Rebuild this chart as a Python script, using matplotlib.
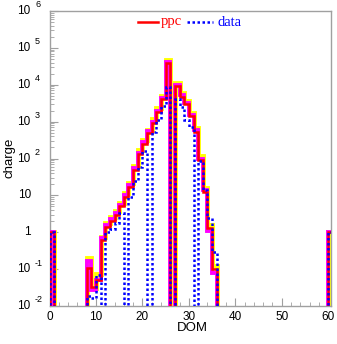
import numpy as np
import matplotlib
matplotlib.use("Agg")
import matplotlib.pyplot as plt
import matplotlib.transforms as mt

# ---- data (DOM index 0..60, one bin per DOM) ----
dom_edges = np.arange(0, 62)
ppc_vals = {0: 1.0, 8: 0.11, 9: 0.033, 10: 0.05, 11: 0.6, 12: 1.4, 13: 2.0, 14: 3.0,
            15: 5.0, 16: 9, 17: 17, 18: 50, 19: 130, 20: 250, 21: 480, 22: 900,
            23: 1800, 24: 4000, 25: 38000, 27: 9000, 28: 4800, 29: 3000, 30: 1400,
            31: 530, 32: 92, 33: 12.6, 34: 1.3, 35: 0.1, 60: 1.0}
data_vals = {0: 1.0, 8: 0.019, 9: 0.017, 10: 0.07, 12: 1.0, 13: 1.2, 14: 1.8,
             15: 3.3, 17: 9, 18: 24, 19: 60, 20: 160, 22: 530, 23: 1100,
             24: 2600, 25: 8500, 27: 4000, 28: 2500, 29: 1100, 30: 700,
             32: 85, 33: 14, 34: 2.5, 35: 0.3, 60: 1.0}
mag_vals = {0: 1.0, 8: 0.17, 9: 0.027, 10: 0.05, 11: 0.7, 12: 1.6, 13: 2.3, 14: 3.4,
            15: 5.6, 16: 10, 17: 19, 18: 56, 19: 145, 20: 280, 21: 540, 22: 1000,
            23: 2000, 24: 4500, 25: 42000, 27: 10000, 28: 5300, 29: 3300, 30: 1550,
            31: 590, 32: 100, 33: 14, 34: 1.1, 35: 0.08, 60: 1.0}
yel_vals = {0: 1.0, 8: 0.2, 9: 0.03, 10: 0.075, 11: 0.75, 12: 1.8, 13: 2.6, 14: 3.8,
            15: 6.3, 16: 11.5, 17: 22, 18: 64, 19: 165, 20: 320, 21: 610, 22: 1150,
            23: 2300, 24: 5100, 25: 47000, 27: 11500, 28: 6000, 29: 3700, 30: 1750,
            31: 660, 32: 115, 33: 16, 34: 1.6, 35: 0.12, 60: 1.0}
legend_labels = ["ppc", "data"]

def to_arr(d):
    a = np.zeros(61)
    for k, v in d.items():
        a[k] = v
    return a

ppc = to_arr(ppc_vals)
data = to_arr(data_vals)
mag = to_arr(mag_vals)
yel = to_arr(yel_vals)

YMIN, YMAX = 1e-2, 1e6
W, H = 337, 344
fig = plt.figure(figsize=(W / 100, H / 100), dpi=100)
L, R, T, B = 49.5, 331, 11, 306
ax = fig.add_axes([L / W, 1 - B / H, (R - L) / W, (B - T) / H])

def stair(a, **kw):
    b = np.where(a > 0, a, YMIN * 1e-3)
    ax.stairs(b, dom_edges, baseline=YMIN * 1e-3, **kw)

stair(yel, color="#ffff00", lw=3.5, zorder=2)
stair(mag, color="#ff00ff", lw=2.8, zorder=3)
stair(ppc, color="#ff0000", lw=1.8, zorder=4)
stair(data, color="#0000ff", lw=1.8, linestyle=(0, (1, 1)), zorder=5)

ax.set_yscale("log")
ax.set_ylim(YMIN, YMAX)
ax.set_xlim(0, 60.6)

gray = "#a0a0a0"
for s in ax.spines.values():
    s.set_color(gray)
    s.set_linewidth(1.0)

FS = 8.5
ax.set_xticks([0, 10, 20, 30, 40, 50, 60])
ax.set_xticks(np.arange(0, 61, 2), minor=True)
ax.tick_params(axis="both", which="both", direction="in", color=gray, top=False, right=False)
ax.tick_params(axis="x", which="major", length=6, labelsize=FS, pad=3.5)
ax.tick_params(axis="x", which="minor", length=3)
ax.tick_params(axis="y", which="major", length=6)
ax.tick_params(axis="y", which="minor", length=3)
for lab in ax.get_xticklabels():
    lab.set_fontfamily("Liberation Sans")

# y tick labels ROOT-style
ax.set_yticks([10.0 ** e for e in range(-2, 7)])
ax.set_yticklabels([])
trans = mt.blended_transform_factory(fig.transFigure, ax.transData)
for e in range(-2, 7):
    v = 10.0 ** e
    if e in (0, 1):
        ax.text(31 / W, v, "1" if e == 0 else "10", transform=trans, ha="right",
                va="center", fontsize=FS, family="Liberation Sans")
    else:
        ax.text(30 / W, v, "10", transform=trans, ha="right", va="center",
                fontsize=FS, family="Liberation Sans")
        ax.text(35 / W, v * 10 ** 0.095, str(e), transform=trans, ha="left",
                va="baseline", fontsize=6.5, family="Liberation Sans")

fig.text(192 / W, 1 - 328 / H, "DOM", ha="center", va="center", fontsize=9.5,
         family="Liberation Sans")
fig.text(9 / W, 1 - 158 / H, "charge", ha="center", va="center", rotation=90,
         fontsize=9.5, family="Liberation Sans")

# legend drawn by hand (ROOT style, no frame)
ly = 1 - 22 / H
fig.add_artist(plt.Line2D([138 / W, 158 / W], [ly, ly], color="#ff0000", lw=1.8,
                          transform=fig.transFigure))
fig.text(161 / W, ly, legend_labels[0], color="#ff0000", ha="left", va="center",
         fontsize=10.5, family="Liberation Serif")
fig.add_artist(plt.Line2D([187 / W, 213 / W], [ly, ly], color="#0000ff", lw=1.8,
                          linestyle=(0, (1, 1)), transform=fig.transFigure))
fig.text(218 / W, ly, legend_labels[1], color="#0000ff", ha="left", va="center",
         fontsize=10.5, family="Liberation Serif")

fig.savefig("out.png", dpi=100)
